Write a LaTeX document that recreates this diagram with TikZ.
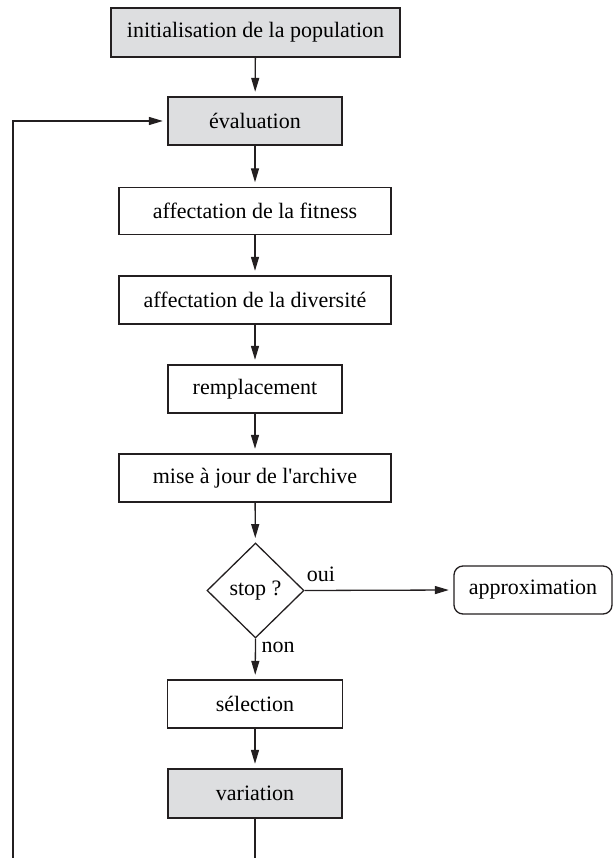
\documentclass[tikz,border=0pt]{standalone}
\usepackage{fontspec}
\setmainfont{Liberation Serif}
\usetikzlibrary{shapes.geometric,arrows.meta}
\definecolor{boxgray}{RGB}{221,222,224}
\definecolor{ink}{RGB}{35,31,32}
\tikzset{
  stepbox/.style={draw=ink, line width=1.3pt, rectangle, inner sep=0pt, minimum height=48pt, font=\fontsize{22}{26}\selectfont},
  graybox/.style={stepbox, fill=boxgray},
  decision/.style={draw=ink, line width=1.3pt, diamond, inner sep=0pt, minimum width=97pt, minimum height=95pt, font=\fontsize{22}{26}\selectfont},
  endbox/.style={stepbox, rounded corners=9pt},
  arr/.style={draw=ink, line width=1.3pt, -{Triangle[length=14pt,width=8pt]}, shorten >=4.5pt},
  line/.style={draw=ink, line width=1.3pt},
  lbl/.style={font=\fontsize{22}{26}\selectfont, inner sep=0pt}
}
\begin{document}
\begin{tikzpicture}[x=1pt,y=-1pt]
\useasboundingbox (0,0) rectangle (614,858);
\node[graybox, minimum width=289pt, minimum height=49pt] (init) at (255.5,32.5) {initialisation de la population};
\node[graybox, minimum width=174pt] (eval) at (255,121) {évaluation};
\node[stepbox, minimum width=272pt, minimum height=47pt] (fit) at (255,211) {affectation de la fitness};
\node[stepbox, minimum width=272pt] (div) at (255,300) {affectation de la diversité};
\node[stepbox, minimum width=174pt] (rempl) at (255,389) {remplacement};
\node[stepbox, minimum width=272pt] (arch) at (255,478) {mise à jour de l\textquotesingle archive};
\node[decision] (stop) at (255.5,590.5) {stop ?};
\node[endbox, minimum width=158pt] (approx) at (533,590) {approximation};
\node[stepbox, minimum width=175pt] (sel) at (255,704) {sélection};
\node[graybox, minimum width=174pt, minimum height=49pt] (var) at (255,793.5) {variation};
\coordinate (varend) at (255,858);
\coordinate (loopstart) at (13,858);

\draw[arr] (init) -- (eval);
\draw[arr] (eval) -- (fit);
\draw[arr] (fit) -- (div);
\draw[arr] (div) -- (rempl);
\draw[arr] (rempl) -- (arch);
\draw[arr] (arch) -- (stop);
\draw[arr] (stop.east) -- (approx.west);
\draw[arr] (stop.south) -- (sel);
\draw[arr] (sel) -- (var);
\draw[line] (var.south) -- (varend);
\draw[arr] (loopstart) |- (eval.west);

\node[lbl] (oui) at (321,574) {oui};
\node[lbl] (non) at (278,647) {non};
\end{tikzpicture}
\end{document}
